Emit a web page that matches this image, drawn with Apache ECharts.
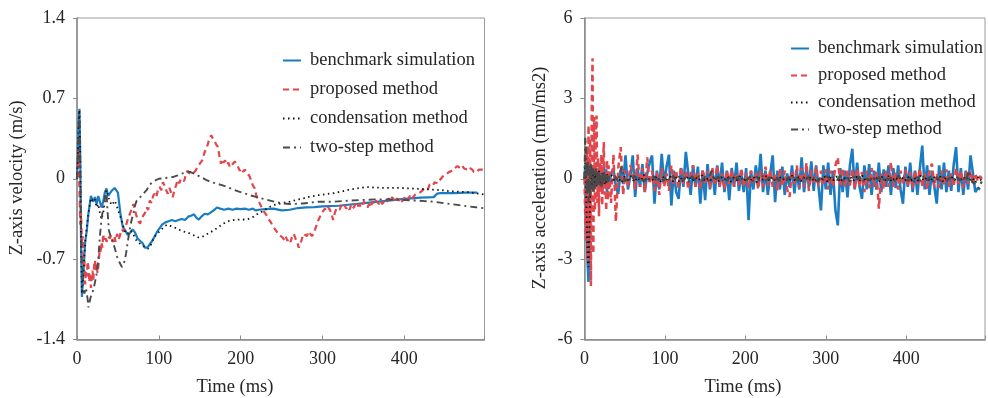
<!DOCTYPE html>
<html>
<head>
<meta charset="utf-8">
<script src="https://cdn.jsdelivr.net/npm/echarts@6/dist/echarts.min.js"></script>
<style>
  html, body { margin: 0; padding: 0; background: #fff; }
  #chart { width: 988px; height: 398px; }
</style>
</head>
<body>
<div id="chart"></div>
<script>
// ---------- Z-axis velocity (m/s), [time ms, value] ----------
const benchmarkVelocity = [[0,0],[1,0.2],[2,0.5],[3,0.61],[4,0.2],[5,-0.6],[6,-1.03],[8,-0.8],[10,-0.55],[12,-0.45],[14,-0.3],[17,-0.15],[20,-0.2],[22,-0.16],[24,-0.22],[26,-0.15],[28,-0.2],[30,-0.25],[32,-0.2],[34,-0.12],[36,-0.085],[38,-0.15],[40,-0.14],[43,-0.1],[46,-0.08],[48,-0.07],[50,-0.12],[53,-0.3],[56,-0.42],[59,-0.45],[62,-0.49],[65,-0.47],[68,-0.44],[71,-0.47],[74,-0.52],[77,-0.54],[80,-0.56],[83,-0.6],[86,-0.6],[89,-0.57],[92,-0.54],[95,-0.5],[98,-0.46],[101,-0.43],[104,-0.4],[108,-0.38],[112,-0.37],[116,-0.36],[120,-0.37],[124,-0.36],[128,-0.35],[132,-0.36],[136,-0.33],[140,-0.32],[143,-0.31],[146,-0.34],[149,-0.355],[152,-0.33],[156,-0.305],[160,-0.31],[164,-0.29],[168,-0.27],[171,-0.25],[175,-0.26],[180,-0.27],[185,-0.26],[190,-0.27],[195,-0.26],[200,-0.265],[205,-0.26],[210,-0.27],[215,-0.26],[218,-0.276],[222,-0.27],[230,-0.265],[240,-0.26],[250,-0.275],[260,-0.27],[270,-0.255],[280,-0.25],[290,-0.247],[300,-0.24],[320,-0.235],[340,-0.22],[360,-0.205],[380,-0.19],[400,-0.175],[420,-0.165],[436,-0.16],[440,-0.13],[444,-0.125],[460,-0.125],[475,-0.12],[489,-0.12]];

const proposedVelocity = [[0,0],[1,0.05],[2,0.25],[3,-0.1],[4,-0.4],[5,-0.3],[6,-0.57],[7,-0.5],[8,-0.75],[9,-0.7],[10,-0.92],[11,-0.8],[12,-0.85],[13,-0.72],[14,-0.77],[15,-0.9],[16,-0.82],[17,-0.95],[18,-0.86],[19,-0.8],[20,-0.88],[21,-0.75],[22,-0.71],[23,-0.8],[24,-0.74],[25,-0.82],[26,-0.77],[27,-0.68],[28,-0.6],[29,-0.65],[30,-0.55],[31,-0.6],[32,-0.48],[33,-0.53],[35,-0.5],[36,-0.55],[38,-0.5],[40,-0.52],[42,-0.49],[44,-0.55],[46,-0.5],[47,-0.55],[49,-0.48],[51,-0.53],[53,-0.48],[55,-0.44],[57,-0.46],[59,-0.42],[61,-0.38],[63,-0.33],[65,-0.3],[67,-0.26],[69,-0.22],[71,-0.28],[73,-0.33],[75,-0.37],[77,-0.39],[79,-0.35],[81,-0.32],[83,-0.3],[85,-0.25],[87,-0.27],[89,-0.19],[91,-0.21],[93,-0.15],[95,-0.13],[97,-0.16],[99,-0.09],[101,-0.07],[103,-0.1],[105,-0.03],[107,-0.06],[109,-0.1],[111,-0.13],[113,-0.08],[115,-0.12],[117,-0.16],[119,-0.1],[121,-0.06],[123,-0.01],[125,-0.04],[127,0.0],[129,0.015],[131,-0.02],[133,0.04],[135,0.07],[137,0.05],[139,0.06],[141,0.04],[143,0.03],[145,0.07],[147,0.1],[149,0.09],[151,0.14],[153,0.16],[155,0.21],[157,0.25],[159,0.28],[161,0.33],[163,0.36],[164,0.38],[166,0.35],[168,0.33],[170,0.3],[172,0.28],[174,0.2],[176,0.13],[177,0.17],[179,0.14],[181,0.16],[183,0.12],[185,0.14],[187,0.1],[189,0.12],[191,0.13],[193,0.15],[195,0.145],[197,0.1],[199,0.07],[201,0.09],[203,0.06],[205,0.08],[207,0.06],[209,0.04],[211,0.02],[213,-0.02],[215,-0.06],[217,-0.08],[219,-0.14],[221,-0.18],[223,-0.21],[225,-0.24],[227,-0.27],[229,-0.29],[231,-0.31],[233,-0.34],[235,-0.36],[237,-0.38],[239,-0.41],[241,-0.43],[243,-0.45],[245,-0.47],[247,-0.49],[249,-0.5],[251,-0.51],[253,-0.53],[255,-0.5],[257,-0.54],[259,-0.52],[261,-0.55],[263,-0.5],[265,-0.48],[267,-0.52],[269,-0.55],[271,-0.6],[273,-0.57],[275,-0.52],[277,-0.48],[279,-0.47],[281,-0.5],[283,-0.46],[285,-0.47],[287,-0.5],[289,-0.48],[291,-0.44],[293,-0.4],[295,-0.36],[297,-0.33],[299,-0.3],[301,-0.28],[303,-0.26],[305,-0.28],[307,-0.25],[309,-0.27],[311,-0.3],[313,-0.36],[315,-0.3],[317,-0.26],[319,-0.25],[321,-0.27],[323,-0.23],[325,-0.25],[327,-0.23],[329,-0.26],[331,-0.24],[333,-0.27],[335,-0.23],[337,-0.26],[339,-0.24],[341,-0.21],[343,-0.24],[345,-0.22],[347,-0.25],[349,-0.22],[351,-0.2],[353,-0.23],[355,-0.25],[357,-0.22],[359,-0.25],[361,-0.2],[363,-0.22],[365,-0.19],[367,-0.2],[369,-0.22],[371,-0.19],[373,-0.22],[375,-0.2],[377,-0.18],[379,-0.2],[381,-0.17],[383,-0.19],[385,-0.16],[387,-0.18],[389,-0.2],[391,-0.17],[393,-0.19],[395,-0.17],[397,-0.2],[399,-0.18],[401,-0.16],[403,-0.19],[405,-0.17],[407,-0.15],[409,-0.18],[411,-0.16],[413,-0.14],[415,-0.15],[417,-0.13],[419,-0.14],[421,-0.11],[423,-0.1],[425,-0.08],[427,-0.07],[429,-0.09],[431,-0.05],[433,-0.04],[435,-0.06],[437,-0.03],[439,-0.02],[441,-0.04],[443,-0.015],[445,0.0],[447,0.02],[449,0.01],[451,0.04],[453,0.03],[455,0.06],[457,0.05],[459,0.07],[461,0.09],[463,0.1],[465,0.11],[467,0.1],[469,0.09],[471,0.11],[473,0.09],[475,0.1],[477,0.08],[479,0.1],[481,0.1],[483,0.08],[485,0.06],[487,0.07],[489,0.06],[491,0.08],[493,0.07],[495,0.08],[497,0.08]];

const condensationVelocity = [[0,0],[1,0.2],[2,0.5],[3,0.6],[4,0.2],[5,-0.6],[6,-1.0],[8,-0.8],[10,-0.55],[12,-0.42],[14,-0.3],[17,-0.17],[20,-0.2],[22,-0.18],[24,-0.25],[26,-0.22],[28,-0.3],[30,-0.35],[32,-0.3],[34,-0.2],[36,-0.1],[38,-0.15],[40,-0.2],[43,-0.23],[46,-0.19],[48,-0.22],[50,-0.27],[53,-0.33],[56,-0.4],[59,-0.47],[62,-0.48],[65,-0.45],[68,-0.47],[71,-0.52],[74,-0.55],[78,-0.57],[82,-0.59],[87,-0.61],[90,-0.58],[94,-0.51],[98,-0.48],[102,-0.45],[106,-0.42],[110,-0.4],[114,-0.41],[118,-0.42],[124,-0.44],[130,-0.46],[136,-0.47],[142,-0.49],[148,-0.51],[152,-0.51],[157,-0.49],[162,-0.47],[167,-0.45],[173,-0.42],[179,-0.39],[185,-0.37],[191,-0.36],[200,-0.355],[208,-0.355],[216,-0.33],[222,-0.3],[228,-0.28],[234,-0.25],[240,-0.23],[246,-0.22],[252,-0.21],[260,-0.2],[268,-0.185],[277,-0.17],[285,-0.155],[293,-0.145],[303,-0.135],[314,-0.125],[324,-0.11],[334,-0.093],[345,-0.08],[355,-0.073],[365,-0.077],[375,-0.08],[385,-0.08],[395,-0.08],[405,-0.083],[415,-0.087],[425,-0.09],[436,-0.096],[446,-0.1],[456,-0.11],[467,-0.113],[477,-0.116],[487,-0.125],[497,-0.137]];

const twoStepVelocity = [[0,0],[1,0.15],[2,0.45],[3,0.55],[4,0.1],[5,-0.5],[7,-0.95],[9,-1.0],[11,-0.95],[13,-1.05],[14,-1.12],[16,-1.05],[18,-1.0],[20,-0.97],[22,-0.9],[24,-0.83],[26,-0.7],[28,-0.5],[30,-0.35],[32,-0.25],[34,-0.18],[36,-0.1],[37,-0.25],[39,-0.45],[41,-0.5],[43,-0.54],[46,-0.6],[49,-0.68],[52,-0.73],[55,-0.77],[58,-0.72],[60,-0.65],[62,-0.55],[65,-0.42],[67,-0.35],[69,-0.3],[71,-0.23],[73,-0.19],[76,-0.17],[80,-0.14],[85,-0.1],[89,-0.05],[94,-0.02],[100,0.0],[106,0.005],[112,0.01],[117,0.015],[123,0.03],[128,0.045],[133,0.055],[138,0.06],[143,0.045],[147,0.03],[153,0.01],[159,-0.015],[165,-0.03],[171,-0.044],[177,-0.055],[183,-0.07],[190,-0.09],[197,-0.11],[204,-0.125],[212,-0.145],[220,-0.16],[228,-0.175],[236,-0.19],[244,-0.205],[252,-0.215],[260,-0.22],[268,-0.218],[276,-0.215],[284,-0.21],[293,-0.2],[303,-0.2],[314,-0.2],[324,-0.195],[334,-0.19],[344,-0.186],[354,-0.183],[365,-0.18],[375,-0.18],[385,-0.181],[395,-0.183],[405,-0.187],[415,-0.19],[425,-0.195],[436,-0.2],[446,-0.21],[456,-0.22],[467,-0.23],[477,-0.24],[487,-0.248],[497,-0.256]];

// ---------- Z-axis acceleration (mm/ms2) ----------
// Sampled every 1 ms up to 30 ms, then at the coarser step listed per series.
const benchmarkAccelStep = 3;
const benchmarkAccel = [0,0.5,-0.8,-2.0,-3.2,-3.85,-2.6,-0.9,0.3,-0.4,0.5,-0.3,0.2,-0.2,0.4,-0.1,0.3,-0.35,0.1,0.45,-0.2,0.3,-0.45,0.15,0.5,0.1,-0.3,0.35,-0.5,0.2,-0.37,
  0.2,0.37,-0.3,-0.56,0.3,-0.2,0.87,-0.4,0.1,0.87,-0.68,0.4,-0.3,0.55,-0.5,0.2,0.6,0.87,-0.93,0.3,
  -0.4,0.93,-0.2,0.45,0.9,-1.0,0.3,-0.5,-0.75,0.4,-0.3,1.0,0.2,-0.6,0.5,-0.3,0.45,-0.93,0.3,-0.8,
  0.55,-0.4,0.35,-0.6,0.5,-0.3,0.6,-0.5,0.3,-0.8,0.4,-0.3,0.6,-0.45,0.2,-0.5,0.4,-1.55,0.3,-0.4,
  0.5,-0.2,0.93,-0.5,0.3,-0.6,0.2,0.87,-0.87,0.3,-0.4,0.45,-0.6,0.2,-0.3,0.5,-0.55,0.3,-0.4,0.8,
  -0.5,0.4,-0.3,0.65,-0.45,0.5,-0.3,-1.18,0.5,-0.4,0.6,-0.6,0.3,-1.18,-1.74,0.4,-0.5,0.3,-0.7,0.5,
  1.12,-0.4,0.6,-0.3,-0.75,0.5,-0.4,0.55,-0.6,0.3,-0.4,0.6,-0.5,0.35,-0.3,0.5,-0.6,0.4,-0.35,0.5,
  -0.4,-0.93,0.45,-0.3,0.6,-0.5,0.3,-0.6,0.4,1.24,-0.4,0.5,-0.6,0.3,-0.3,-0.93,0.5,-0.4,0.6,-0.5,
  0.3,-0.45,0.5,1.18,-0.5,0.4,-0.6,0.3,-0.4,0.87,0.2,-0.5,-0.35,-0.4];

const proposedAccelStep = 3;
const proposedAccel = [0,-1.5,-2.3,1.2,-3.1,2.0,-1.8,1.5,-4.0,2.6,4.5,-2.8,2.3,-1.2,1.6,2.36,-0.9,0.8,-1.4,0.6,-0.5,0.9,-1.0,0.4,1.37,-0.6,0.3,-1.2,0.7,-0.8,0.5,
  -0.9,0.9,-1.6,0.4,1.18,-0.6,0.3,-0.3,0.5,0.2,-0.4,0.9,-0.3,0.4,-0.5,0.8,-0.2,0.3,-0.45,0.25,
  -0.6,0.4,-0.3,0.2,-0.45,0.5,-0.2,0.3,-0.35,0.45,-0.2,0.3,-0.4,0.2,0.5,-0.3,0.25,-0.4,0.35,-0.15,
  0.3,-0.35,0.4,-0.25,0.5,-0.3,0.2,-0.4,0.3,-0.2,0.35,-0.3,0.2,-0.25,0.4,-0.3,0.2,-0.35,0.3,-0.2,
  0.25,-0.4,0.3,-0.3,0.45,-0.25,0.35,-0.3,0.2,-0.45,0.4,-0.3,0.3,-0.4,-0.68,0.3,-0.2,0.5,-0.35,0.4,
  -0.3,0.6,-0.45,0.3,-0.2,0.45,-0.3,0.3,-0.25,0.35,-0.4,0.3,-0.3,0.5,0.8,-0.3,0.4,-0.35,0.3,-0.25,
  0.35,-0.4,0.4,-0.3,0.25,-0.5,0.3,-0.35,0.4,-0.3,0.3,-1.12,0.2,-0.4,0.3,-0.3,0.62,-0.3,0.25,-0.4,
  0.3,-0.2,0.35,-0.3,0.25,-0.35,0.3,-0.2,0.4,-0.3,0.2,-0.4,0.3,0.56,-0.3,0.2,-0.35,0.3,-0.25,0.35,
  -0.3,0.2,-0.3,0.4,-0.2,0.3,-0.35,0.25,-0.2,0.3,-0.15,0.2,-0.1,0.1,-0.05];

const condensationAccelStep = 4;
const condensationAccel = [0,0.6,-0.5,-1.8,-3.0,-3.3,-2.0,-0.6,0.5,-0.3,0.4,-0.2,0.3,-0.25,0.2,-0.3,0.25,-0.15,0.3,-0.2,0.15,-0.25,0.2,-0.1,0.15,-0.2,0.1,-0.15,0.2,-0.1,0.1,
  0.12,-0.1,0.05,-0.15,0.08,-0.05,0.1,-0.12,0.06,-0.08,0.15,-0.1,0.04,-0.06,0.1,-0.14,0.07,-0.04,0.09,-0.1,
  0.05,-0.12,0.08,-0.05,0.11,-0.09,0.06,-0.07,0.13,-0.1,0.04,-0.08,0.1,-0.12,0.06,-0.05,0.09,-0.11,0.07,-0.06,
  0.12,-0.1,0.05,-0.09,0.08,-0.13,0.06,-0.04,0.1,-0.08,0.07,-0.11,0.09,-0.06,0.05,-0.1,0.12,-0.07,0.06,-0.09,
  0.1,-0.05,0.08,-0.12,0.04,-0.08,0.11,-0.1,0.07,-0.06,0.09,-0.13,0.06,-0.05,0.1,-0.09,0.08,-0.07,0.12,-0.1,
  0.05,-0.08,0.09,-0.11,0.07,-0.06,0.1,-0.12,0.06,-0.05,0.11,-0.09,0.08,-0.07,0.05,-0.1,0.12,-0.08,0.06,-0.11,
  0.09,-0.06,0.1,-0.12,0.07,-0.05,0.08,-0.09,0.06,-0.07,0.1,-0.08,0.05,-0.15,0.08,-0.1];

const twoStepAccelStep = 4;
const twoStepAccel = [0,1.55,0.8,-0.6,0.7,-0.9,0.5,-0.7,0.6,-0.4,0.45,-0.5,0.3,-0.35,0.4,-0.3,0.25,-0.2,0.3,-0.25,0.2,-0.3,0.15,-0.2,0.25,-0.15,0.2,-0.1,0.15,-0.2,0.1,
  -0.08,0.1,-0.12,0.45,-0.1,0.06,-0.09,0.12,-0.05,0.08,-0.11,0.07,-0.06,0.1,-0.13,0.05,-0.08,0.09,-0.07,0.11,
  -0.05,0.08,-0.1,0.06,-0.12,0.09,-0.06,0.1,-0.08,0.07,-0.09,0.3,-0.07,0.08,-0.11,0.05,-0.06,0.1,-0.09,0.07,
  -0.12,0.06,-0.05,0.09,-0.1,0.08,-0.07,0.11,-0.06,0.05,-0.08,0.1,-0.09,0.07,-0.11,0.06,-0.05,0.12,-0.08,0.09,
  -0.06,0.07,-0.1,0.08,-0.12,0.05,-0.07,0.1,-0.09,0.06,-0.05,0.11,-0.08,0.07,-0.1,0.09,-0.06,0.08,-0.12,0.05,
  -0.07,0.1,-0.09,0.06,-0.11,0.08,-0.05,0.07,-0.1,0.12,-0.06,0.09,-0.08,0.05,-0.12,0.07,-0.09,0.1,-0.06,0.08,
  -0.11,0.06,-0.07,0.09,-0.1,0.05,-0.08,0.11,-0.06,0.07,-0.09,0.3,-0.12,-0.2,-0.35,-0.1];

const seriesNames = ['benchmark simulation', 'proposed method', 'condensation method', 'two-step method'];
const timeTicks = [0, 100, 200, 300, 400];
const velocityTicks = [-1.4, -0.7, 0, 0.7, 1.4];
const accelTicks = [-6, -3, 0, 3, 6];

// Sample time of the i-th acceleration value
function accelPairs(values, step) {
  return values.map((v, i) => [i <= 30 ? i : 30 + step * (i - 30), v]);
}

const FONT = '"Liberation Serif", "Times New Roman", serif';
const AXIS_COLOR = '#8a8a8a';
const TEXT_COLOR = '#262626';

const lineStyles = [
  { color: '#1a7dc3', width: 2.2, type: 'solid' },
  { color: '#e0464b', width: 2.2, type: [6, 4] },
  { color: '#111111', width: 1.8, type: [1.5, 3.5] },
  { color: '#4a4a4a', width: 1.9, type: [7, 4, 2, 4] }
];
// Slightly heavier strokes for the dense acceleration traces
const accelWidths = [2.6, 2.5, 2.0, 2.2];

function xAxisFor(gridIndex) {
  return {
    type: 'value', gridIndex: gridIndex, min: 0, max: 498, interval: 100,
    axisLine: { show: true, onZero: false, lineStyle: { color: AXIS_COLOR, width: 1.5 } },
    axisTick: { show: true, inside: true, length: 4, lineStyle: { color: AXIS_COLOR } },
    splitLine: { show: false },
    axisLabel: {
      margin: 11, color: TEXT_COLOR, fontFamily: FONT, fontSize: 18,
      formatter: v => (timeTicks.indexOf(v) >= 0 ? String(v) : '')
    }
  };
}

function yAxisFor(gridIndex, ticks) {
  return {
    type: 'value', gridIndex: gridIndex, min: ticks[0], max: ticks[ticks.length - 1],
    interval: ticks[1] - ticks[0],
    axisLine: { show: true, onZero: false, lineStyle: { color: AXIS_COLOR, width: 1.5 } },
    axisTick: { show: true, inside: false, length: 4, lineStyle: { color: AXIS_COLOR } },
    splitLine: { show: false },
    axisLabel: {
      margin: 12, color: TEXT_COLOR, fontFamily: FONT, fontSize: 18,
      formatter: v => String(Math.round(v * 10) / 10)
    }
  };
}

function lineSeries(name, idx, data, axisIndex, width) {
  const ls = Object.assign({}, lineStyles[idx], { width: width });
  return {
    name: name, type: 'line', xAxisIndex: axisIndex, yAxisIndex: axisIndex,
    data: data, showSymbol: false, symbol: 'none', animation: false,
    lineStyle: ls, itemStyle: { color: ls.color, opacity: 0 },
    z: 2 + idx
  };
}

const velocitySets = [benchmarkVelocity, proposedVelocity, condensationVelocity, twoStepVelocity];
const accelSets = [
  accelPairs(benchmarkAccel, benchmarkAccelStep),
  accelPairs(proposedAccel, proposedAccelStep),
  accelPairs(condensationAccel, condensationAccelStep),
  accelPairs(twoStepAccel, twoStepAccelStep)
];

const series = [];
seriesNames.forEach((n, i) => series.push(lineSeries(n, i, velocitySets[i], 0, lineStyles[i].width)));
seriesNames.forEach((n, i) => series.push(lineSeries(n, i, accelSets[i], 1, accelWidths[i])));

function legendAt(left, top, gap) {
  return {
    data: seriesNames, left: left, top: top, orient: 'vertical',
    itemWidth: 18, itemHeight: 10, itemGap: gap, selectedMode: false,
    itemStyle: { opacity: 0 },
    textStyle: { fontFamily: FONT, fontSize: 18.5, lineHeight: 18, color: TEXT_COLOR, padding: [0, 0, 0, 4] }
  };
}

function titleText(text, x, y, rotated) {
  return {
    type: 'text', x: x, y: y, rotation: rotated ? Math.PI / 2 : 0, silent: true,
    style: {
      text: text, x: 0, y: 0, font: '18.5px ' + FONT, fill: TEXT_COLOR,
      align: 'center', verticalAlign: 'middle', textAlign: 'center', textVerticalAlign: 'middle'
    }
  };
}

const chart = echarts.init(document.getElementById('chart'), null, { renderer: 'canvas' });
chart.setOption({
  animation: false,
  backgroundColor: '#ffffff',
  grid: [
    { left: 77, top: 18, width: 407.5, height: 321.5, show: true, borderColor: '#9a9a9a', borderWidth: 1, backgroundColor: 'transparent' },
    { left: 584.5, top: 18, width: 407.5, height: 321.5, show: true, borderColor: '#9a9a9a', borderWidth: 1, backgroundColor: 'transparent' }
  ],
  xAxis: [xAxisFor(0), xAxisFor(1)],
  yAxis: [yAxisFor(0, velocityTicks), yAxisFor(1, accelTicks)],
  legend: [legendAt(277, 46, 10), legendAt(785, 34, 8)],
  graphic: [
    titleText('Z-axis velocity (m/s)', 17, 178, true),
    titleText('Time (ms)', 235, 387, false),
    titleText('Z-axis acceleration (mm/ms2)', 540, 178, true),
    titleText('Time (ms)', 743, 387, false)
  ],
  series: series
});
</script>
</body>
</html>
